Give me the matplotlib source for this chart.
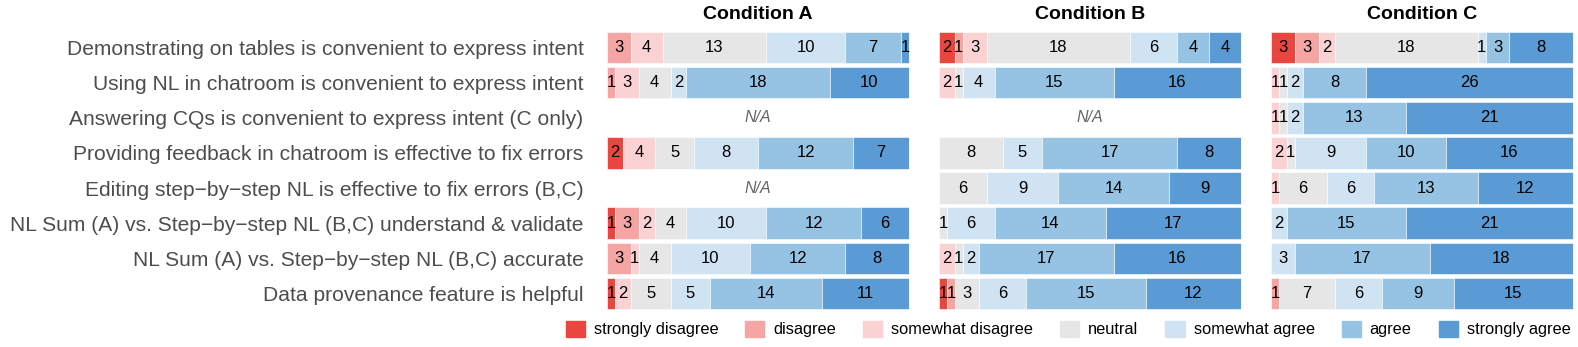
import matplotlib
matplotlib.use('Agg')
import matplotlib.pyplot as plt
import numpy as np

plt.rcParams['font.family'] = ['Liberation Sans', 'DejaVu Sans']

questions = [
    'Demonstrating on tables is convenient to express intent',
    'Using NL in chatroom is convenient to express intent',
    'Answering CQs is convenient to express intent (C only)',
    'Providing feedback in chatroom is effective to fix errors',
    'Editing step\u2212by\u2212step NL is effective to fix errors (B,C)',
    'NL Sum (A) vs. Step\u2212by\u2212step NL (B,C) understand & validate',
    'NL Sum (A) vs. Step\u2212by\u2212step NL (B,C) accurate',
    'Data provenance feature is helpful',
]
levels = ['strongly disagree', 'disagree', 'somewhat disagree', 'neutral',
          'somewhat agree', 'agree', 'strongly agree']
colors = ['#E8463F', '#F4A5A4', '#FAD2D4', '#E6E6E6', '#D0E3F3', '#96C3E4', '#5A9BD5']

# counts per level (SD, D, SWD, N, SWA, A, SA); None = N/A
cond_a = [
    [0, 3, 4, 13, 10, 7, 1],
    [0, 1, 3, 4, 2, 18, 10],
    None,
    [2, 0, 4, 5, 8, 12, 7],
    None,
    [1, 3, 2, 4, 10, 12, 6],
    [0, 3, 1, 4, 10, 12, 8],
    [1, 0, 2, 5, 5, 14, 11],
]
cond_b = [
    [2, 1, 3, 18, 6, 4, 4],
    [0, 0, 2, 1, 4, 15, 16],
    None,
    [0, 0, 0, 8, 5, 17, 8],
    [0, 0, 0, 6, 9, 14, 9],
    [0, 0, 0, 1, 6, 14, 17],
    [0, 0, 2, 1, 2, 17, 16],
    [1, 1, 0, 3, 6, 15, 12],
]
cond_c = [
    [3, 3, 2, 18, 1, 3, 8],
    [0, 0, 1, 1, 2, 8, 26],
    [0, 0, 1, 1, 2, 13, 21],
    [0, 0, 2, 1, 9, 10, 16],
    [0, 0, 1, 6, 6, 13, 12],
    [0, 0, 0, 0, 2, 15, 21],
    [0, 0, 0, 0, 3, 17, 18],
    [0, 1, 0, 7, 6, 9, 15],
]
conditions = ['Condition A', 'Condition B', 'Condition C']
data = [cond_a, cond_b, cond_c]

fig = plt.figure(figsize=(15.78, 3.47), dpi=100)
lefts = [607 / 1578, 939 / 1578, 1271 / 1578]
w = 302 / 1578
bottom = 1 - 314.6 / 347
height = (314.6 - 26.4) / 347

for i, (name, rows) in enumerate(zip(conditions, data)):
    ax = fig.add_axes([lefts[i], bottom, w, height])
    for r, counts in enumerate(rows):
        if counts is None:
            ax.text(0.5, r, 'N/A', ha='center', va='center', style='italic',
                    color='#666666', fontsize=11.5)
            continue
        counts = np.array(counts, dtype=float)
        tot = counts.sum()
        start = 0.0
        for k, c in enumerate(counts):
            if c == 0:
                continue
            wd = c / tot
            ax.barh(r, wd, left=start, height=0.9, color=colors[k],
                    edgecolor='white', linewidth=0.4)
            ax.text(start + wd / 2, r, str(int(c)), ha='center', va='center',
                    fontsize=12, color='black')
            start += wd
    ax.set_xlim(0, 1)
    ax.set_ylim(len(questions) - 0.4, -0.6)
    ax.set_xticks([])
    for s in ax.spines.values():
        s.set_visible(False)
    ax.set_title(name, fontsize=14, fontweight='bold', pad=5)
    if i == 0:
        ax.set_yticks(range(len(questions)))
        ax.set_yticklabels(questions, fontsize=15.1, color='#4D4D4D')
        ax.tick_params(axis='y', length=0, pad=17)
    else:
        ax.set_yticks([])

handles = [plt.Rectangle((0, 0), 1, 1, color=c) for c in colors]
fig.legend(handles, levels, loc='center', bbox_to_anchor=(1068 / 1578, 1 - 329 / 347),
           ncol=7, frameon=False, fontsize=11.8, handlelength=1.16, handleheight=1.16,
           handletextpad=0.55, columnspacing=1.65, borderpad=0.2)

fig.savefig('out.png', dpi=100)
